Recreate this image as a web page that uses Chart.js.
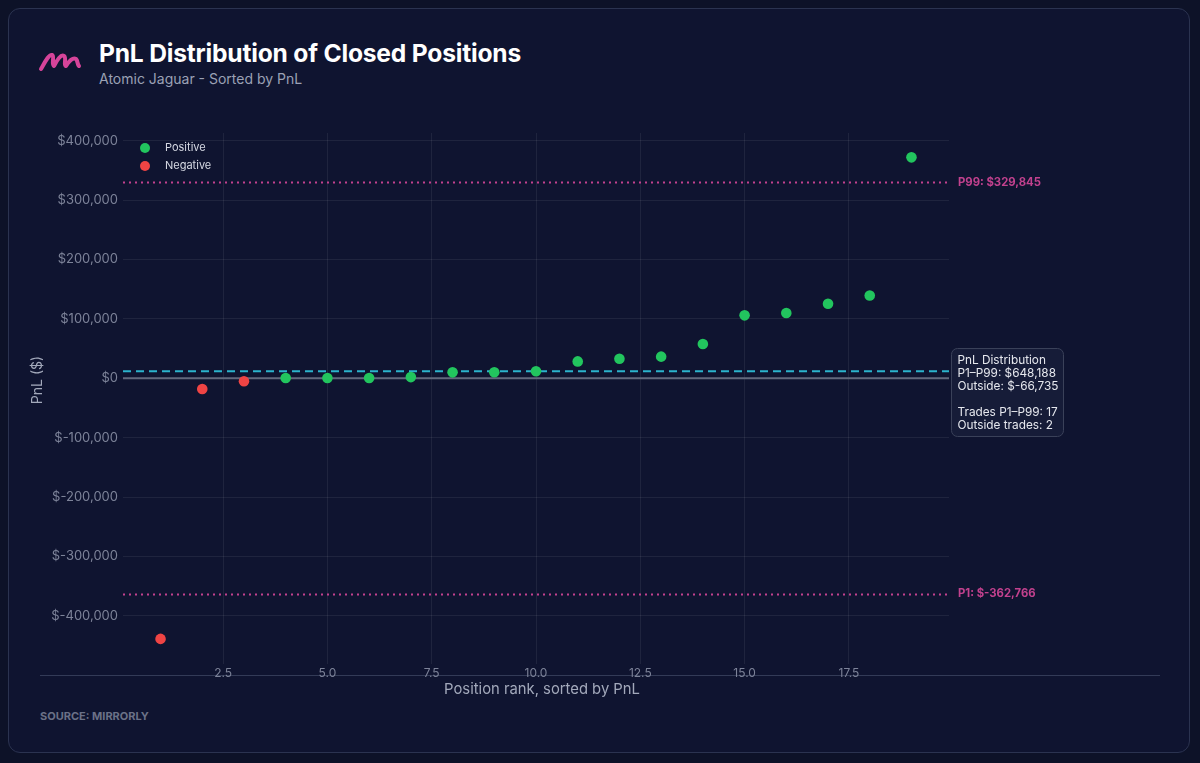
<!DOCTYPE html>
<html>
<head>
<meta charset="utf-8">
<script src="https://cdn.jsdelivr.net/npm/chart.js@4"></script>
<style>
  html, body { margin: 0; padding: 0; background: #0d1228; width: 1200px; height: 763px; overflow: hidden; font-family: Inter, "Noto Sans", sans-serif; }
  .card { position: absolute; left: 8px; top: 8px; width: 1180px; height: 743px; border: 1px solid #2b3350; border-radius: 12px; background: #0f1430; }
  .logo { position: absolute; left: 38px; top: 46px; }
  .title { position: absolute; left: 99px; top: 38px; color: #ffffff; font-size: 24.6px; font-weight: 700; letter-spacing: -0.2px; }
  .subtitle { position: absolute; left: 99px; top: 70px; color: #9ba1b5; font-size: 14px; }
  .source { position: absolute; left: 40px; top: 709px; color: #6b7187; font-size: 11px; font-weight: 700; }
  canvas { position: absolute; left: 0; top: 0; }
</style>
</head>
<body>
<div class="card"></div>
<svg class="logo" width="46" height="28" viewBox="0 0 46 28">
  <path d="M3 23 C7 16, 11 8, 14 9 C17 10, 13 18, 16 20 C19 14, 23 8, 26 10 C29 12, 25 19, 28 20 C31 15, 35 11, 38 13 C40 15, 39 18, 41 20"
        fill="none" stroke="#d6449a" stroke-width="4" stroke-linecap="round" stroke-linejoin="round"/>
</svg>
<div class="title">PnL Distribution of Closed Positions</div>
<div class="subtitle">Atomic Jaguar - Sorted by PnL</div>
<div class="source">SOURCE: MIRRORLY</div>
<canvas id="pnlChart" width="1200" height="763"></canvas>
<script>
// Pozisyon sırası ve PnL değerleri
const ranks = [1, 2, 3, 4, 5, 6, 7, 8, 9, 10, 11, 12, 13, 14, 15, 16, 17, 18, 19];
const pnlValues = [-438700, -18000, -5000, 500, 500, 600, 2000, 10000, 10200, 12000,
                   28500, 33000, 36500, 57700, 106000, 110000, 125500, 139500, 372000];
const seriesNames = ['Positive', 'Negative'];
const seriesColors = ['#22c55e', '#ef4444'];

const xTicks = [2.5, 5.0, 7.5, 10.0, 12.5, 15.0, 17.5];
const yTicks = [-400000, -300000, -200000, -100000, 0, 100000, 200000, 300000, 400000];

const p99Value = 329845;
const p1Value = -362766;
const medianValue = 12000;

const infoLines = ['PnL Distribution', 'P1\u2013P99: $648,188', 'Outside: $-66,735', '', 'Trades P1\u2013P99: 17', 'Outside trades: 2'];

function money(v) {
    const s = Math.abs(v).toLocaleString('en-US');
    return v < 0 ? '$-' + s : '$' + s;
}

const positivePoints = [];
const negativePoints = [];
ranks.forEach((r, i) => {
    const p = { x: r, y: pnlValues[i] };
    if (pnlValues[i] >= 0) positivePoints.push(p); else negativePoints.push(p);
});

const FONT = 'Inter, "Noto Sans", sans-serif';

// Referans çizgileri, açıklama kutusu ve lejant
const extrasPlugin = {
    id: 'extras',
    beforeDraw(chart) {
        const ctx = chart.ctx;
        ctx.save();
        ctx.strokeStyle = '#333b57';
        ctx.lineWidth = 1;
        ctx.beginPath();
        ctx.moveTo(40, 675.5);
        ctx.lineTo(1160, 675.5);
        ctx.stroke();
        ctx.restore();
    },
    beforeDatasetsDraw(chart) {
        const ctx = chart.ctx;
        const area = chart.chartArea;
        const y = chart.scales.y;
        ctx.save();

        // sıfır çizgisi
        ctx.strokeStyle = '#62687d';
        ctx.lineWidth = 2;
        ctx.beginPath();
        ctx.moveTo(area.left, y.getPixelForValue(0));
        ctx.lineTo(area.right, y.getPixelForValue(0));
        ctx.stroke();

        // medyan
        ctx.strokeStyle = '#2bb3cc';
        ctx.setLineDash([8, 5]);
        ctx.beginPath();
        ctx.moveTo(area.left, y.getPixelForValue(medianValue));
        ctx.lineTo(area.right, y.getPixelForValue(medianValue));
        ctx.stroke();

        // P99 / P1
        ctx.strokeStyle = '#c2418e';
        ctx.setLineDash([2, 4]);
        [p99Value, p1Value].forEach(v => {
            const py = Math.round(y.getPixelForValue(v)) + 0.5;
            ctx.beginPath();
            ctx.moveTo(area.left, py);
            ctx.lineTo(area.right, py);
            ctx.stroke();
        });
        ctx.setLineDash([]);

        ctx.fillStyle = '#c2418e';
        ctx.font = 'bold 11.3px ' + FONT;
        ctx.textBaseline = 'middle';
        ctx.textAlign = 'left';
        ctx.fillText('P99: ' + money(p99Value), area.right + 9, y.getPixelForValue(p99Value));
        ctx.fillText('P1: ' + money(p1Value), area.right + 9, y.getPixelForValue(p1Value));
        ctx.restore();
    },
    afterDraw(chart) {
        const ctx = chart.ctx;
        const area = chart.chartArea;
        ctx.save();

        // lejant
        ctx.font = '11px ' + FONT;
        ctx.textBaseline = 'middle';
        seriesNames.forEach((name, i) => {
            const ly = area.top + 15 + i * 18;
            ctx.fillStyle = seriesColors[i];
            ctx.beginPath();
            ctx.arc(area.left + 22, ly, 5, 0, Math.PI * 2);
            ctx.fill();
            ctx.fillStyle = '#d6d9e3';
            ctx.fillText(name, area.left + 42, ly);
        });

        // açıklama kutusu
        const bx = area.right + 2.5, by = 348.5, bw = 112, bh = 88;
        ctx.fillStyle = '#161c38';
        ctx.strokeStyle = '#3a4159';
        ctx.lineWidth = 1;
        ctx.beginPath();
        ctx.roundRect(bx, by, bw, bh, 6);
        ctx.fill();
        ctx.stroke();
        ctx.fillStyle = '#e6e8ee';
        ctx.font = '11.8px ' + FONT;
        ctx.textAlign = 'left';
        infoLines.forEach((line, i) => {
            ctx.fillText(line, bx + 6, by + 12 + i * 12.9);
        });

        // eksen başlıkları
        ctx.fillStyle = '#a3a9bb';
        ctx.font = '14.8px ' + FONT;
        ctx.textAlign = 'center';
        ctx.fillText('Position rank, sorted by PnL', 542, 690);
        ctx.font = '14px ' + FONT;
        ctx.translate(38, 380);
        ctx.rotate(-Math.PI / 2);
        ctx.fillText('PnL ($)', 0, 0);
        ctx.restore();
    }
};

const ctx = document.getElementById('pnlChart').getContext('2d');
new Chart(ctx, {
    type: 'scatter',
    data: {
        datasets: [{
            label: seriesNames[0],
            data: positivePoints,
            backgroundColor: seriesColors[0],
            borderWidth: 0,
            pointRadius: 5.3
        }, {
            label: seriesNames[1],
            data: negativePoints,
            backgroundColor: seriesColors[1],
            borderWidth: 0,
            pointRadius: 5.3
        }]
    },
    options: {
        responsive: false,
        animation: false,
        layout: { padding: { left: 0, right: 251, top: 133, bottom: 0 } },
        plugins: {
            legend: { display: false },
            tooltip: { enabled: false }
        },
        scales: {
            x: {
                type: 'linear',
                min: 0.1,
                max: 19.9,
                afterBuildTicks: scale => { scale.ticks = xTicks.map(v => ({ value: v })); },
                afterFit: scale => { scale.height = 99; },
                grid: { color: 'rgba(255,255,255,0.07)', drawTicks: false },
                border: { display: false },
                ticks: {
                    color: '#7d8399',
                    font: { family: FONT, size: 12 },
                    padding: 2,
                    maxRotation: 0,
                    callback: v => Number(v).toFixed(1)
                }
            },
            y: {
                min: -481000,
                max: 413000,
                afterBuildTicks: scale => { scale.ticks = yTicks.map(v => ({ value: v })); },
                afterFit: scale => { scale.width = 123; },
                grid: { color: 'rgba(255,255,255,0.07)', drawTicks: false },
                border: { display: false },
                ticks: {
                    color: '#7d8399',
                    font: { family: FONT, size: 13 },
                    padding: 5,
                    callback: v => money(v)
                }
            }
        }
    },
    plugins: [extrasPlugin]
});
</script>
</body>
</html>
